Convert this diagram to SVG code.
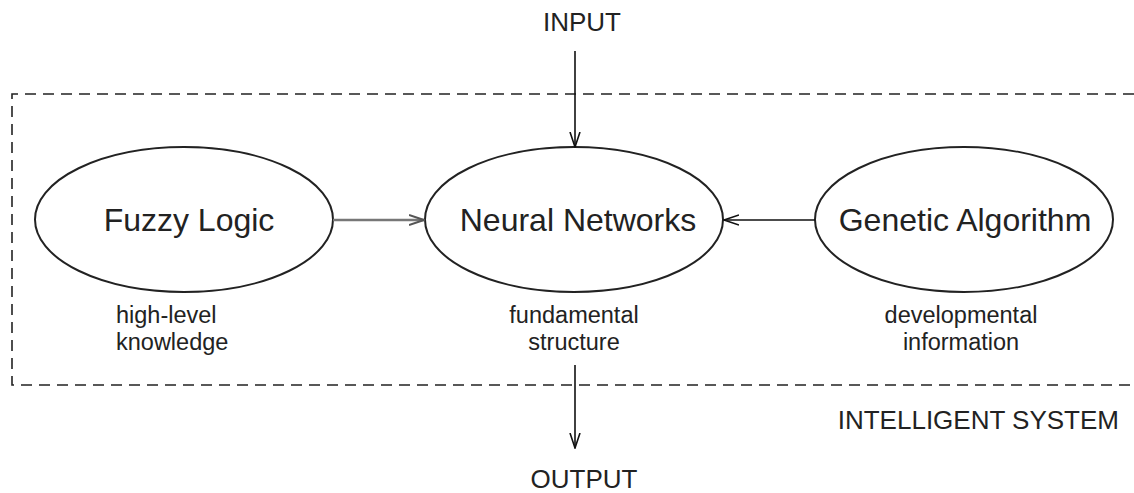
<svg xmlns="http://www.w3.org/2000/svg" width="1134" height="493" viewBox="0 0 1134 493">
<style>
text{font-family:"Liberation Sans",Arial,sans-serif;fill:#222}
.big{font-size:32px}
.lab{font-size:26px}
.sub{font-size:23.5px}
.node{fill:#fff;stroke:#222;stroke-width:2}
.conn{stroke:#111;stroke-width:1.6;fill:none}
.gray{stroke:#777;stroke-width:2.6;fill:none}
.box{fill:none;stroke:#222;stroke-width:1.6;stroke-dasharray:11 7}
</style>
<defs>
<marker id="ah" markerWidth="16" markerHeight="12" refX="15" refY="6" orient="auto" markerUnits="userSpaceOnUse">
<path d="M0,1 L15,6 L0,11" fill="none" stroke="#111" stroke-width="1.6"/>
</marker>
<marker id="ahg" markerWidth="16" markerHeight="12" refX="15" refY="6" orient="auto" markerUnits="userSpaceOnUse">
<path d="M0,1 L15,6 L0,11" fill="none" stroke="#555" stroke-width="2"/>
</marker>
</defs>
<path class="box" d="M1134,94 H12 V385 H1134"/>
<text class="lab" x="582" y="31" text-anchor="middle">INPUT</text>
<text class="lab" x="584" y="488" text-anchor="middle">OUTPUT</text>
<text class="lab" x="1119" y="429" text-anchor="end">INTELLIGENT SYSTEM</text>
<g id="fuzzy">
<ellipse class="node" cx="184" cy="219.5" rx="149" ry="72.5"/>
<text class="big" x="189" y="231" text-anchor="middle">Fuzzy Logic</text>
<text class="sub" x="116" y="323">high-level</text>
<text class="sub" x="116" y="350">knowledge</text>
</g>
<g id="neural">
<ellipse class="node" cx="574" cy="219.5" rx="149" ry="72.5"/>
<text class="big" x="578" y="231" text-anchor="middle">Neural Networks</text>
<text class="sub" x="574" y="323" text-anchor="middle">fundamental</text>
<text class="sub" x="574" y="350" text-anchor="middle">structure</text>
</g>
<g id="genetic">
<ellipse class="node" cx="964" cy="219.5" rx="149" ry="72.5"/>
<text class="big" x="965" y="231" text-anchor="middle">Genetic Algorithm</text>
<text class="sub" x="961" y="323" text-anchor="middle">developmental</text>
<text class="sub" x="961" y="350" text-anchor="middle">information</text>
</g>
<g id="connectors">
<line class="conn" x1="575" y1="51" x2="575" y2="147" marker-end="url(#ah)"/>
<line class="gray" x1="333" y1="220" x2="424" y2="220" marker-end="url(#ahg)"/>
<line class="conn" x1="815" y1="220" x2="724" y2="220" marker-end="url(#ah)"/>
<line class="conn" x1="575" y1="365" x2="575" y2="448" marker-end="url(#ah)"/>
</g>
</svg>
